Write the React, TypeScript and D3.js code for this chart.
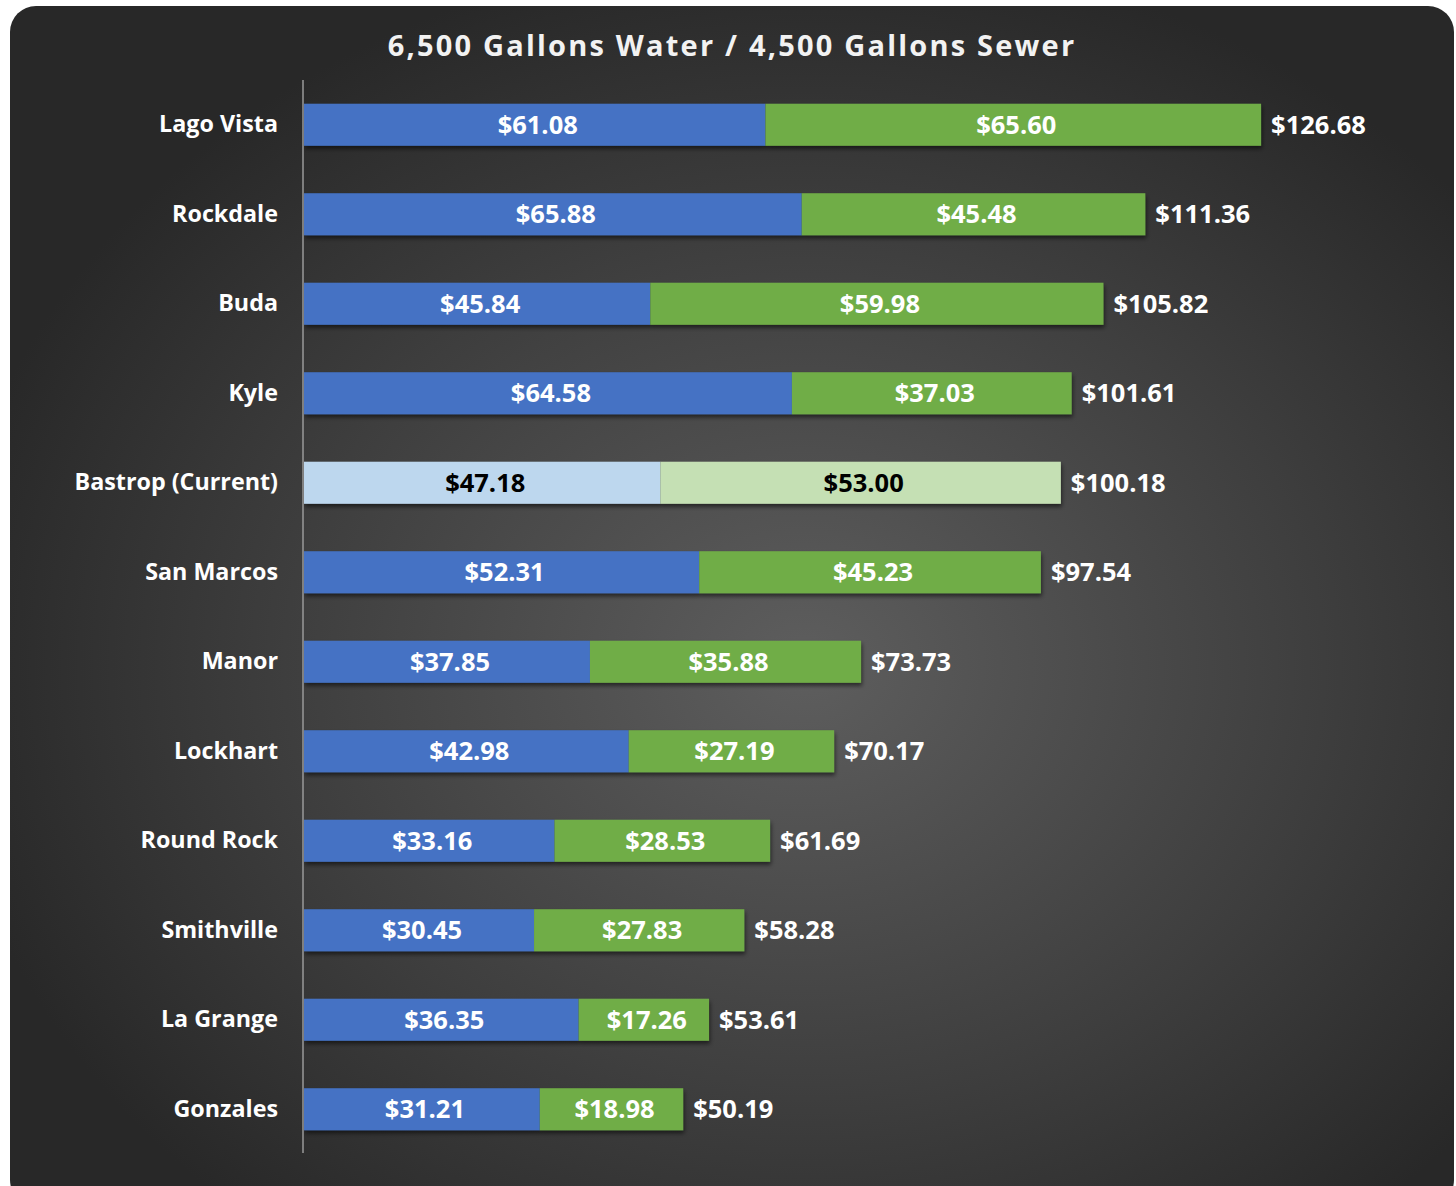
import React from "react";
import * as d3 from "d3";

const cities = ["Lago Vista","Rockdale","Buda","Kyle","Bastrop (Current)","San Marcos","Manor","Lockhart","Round Rock","Smithville","La Grange","Gonzales"];
const water = [61.08,65.88,45.84,64.58,47.18,52.31,37.85,42.98,33.16,30.45,36.35,31.21];
const sewer = [65.60,45.48,59.98,37.03,53.00,45.23,35.88,27.19,28.53,27.83,17.26,18.98];
const totals = [126.68,111.36,105.82,101.61,100.18,97.54,73.73,70.17,61.69,58.28,53.61,50.19];
const highlight = "Bastrop (Current)";
const title = "6,500 Gallons Water / 4,500 Gallons Sewer";

const W = 1456, H = 1186;
const FONT = "'Open Sans', Lato, sans-serif";

export default function App() {
  const x = d3.scaleLinear().domain([0, 140]).range([304, 304 + 140 * 7.555]);
  const y = d3.scaleBand().domain(cities).range([80, 1154]).paddingInner(0.53).paddingOuter(0.265);
  const fmt = (v: number) => "$" + v.toFixed(2);
  return (
    <svg width={W} height={H} style={{ position: "absolute", left: 0, top: 0 }}>
      <defs>
        <radialGradient id="bg" cx="0.55" cy="0.55" r="0.6">
          <stop offset="0" stopColor="#5e5e5e" />
          <stop offset="0.6" stopColor="#3e3e3e" />
          <stop offset="1" stopColor="#282828" />
        </radialGradient>
        <filter id="sh" x="-5%" y="-20%" width="110%" height="160%">
          <feDropShadow dx="1" dy="3" stdDeviation="2" floodColor="#000" floodOpacity="0.55" />
        </filter>
      </defs>
      <rect x={10} y={6} width={1444} height={1200} rx={26} fill="url(#bg)" />
      <text x={732} y={56} textAnchor="middle" fill="#f2f2f2" fontFamily={FONT} fontWeight={700} fontSize={29} letterSpacing={2.2}>{title}</text>
      {cities.map((c, i) => {
        const yy = y(c)!;
        const bh = y.bandwidth();
        const hl = c === highlight;
        const cy = yy + bh / 2;
        return (
          <g key={c}>
            <g filter="url(#sh)">
              <rect x={x(0)} y={yy} width={x(water[i]) - x(0)} height={bh} fill={hl ? "#bdd7ee" : "#4472c4"} />
              <rect x={x(water[i])} y={yy} width={x(water[i] + sewer[i]) - x(water[i])} height={bh} fill={hl ? "#c5e0b4" : "#70ad47"} />
            </g>
            <text x={(x(0) + x(water[i])) / 2 + 3} y={cy} dy="0.36em" textAnchor="middle" fill={hl ? "#000" : "#fff"} fontFamily={FONT} fontWeight={700} fontSize={25.5}>{fmt(water[i])}</text>
            <text x={(x(water[i]) + x(water[i] + sewer[i])) / 2 + 3} y={cy} dy="0.36em" textAnchor="middle" fill={hl ? "#000" : "#fff"} fontFamily={FONT} fontWeight={700} fontSize={25.5}>{fmt(sewer[i])}</text>
            <text x={x(totals[i]) + 10} y={cy} dy="0.36em" textAnchor="start" fill="#fff" fontFamily={FONT} fontWeight={700} fontSize={25.5}>{fmt(totals[i])}</text>
            <text x={278} y={cy} dy="0.33em" textAnchor="end" fill="#fff" fontFamily={FONT} fontWeight={700} fontSize={23.3}>{c}</text>
          </g>
        );
      })}
      <line x1={303} x2={303} y1={80} y2={1153} stroke="#9a9a9a" strokeWidth={1.5} />
    </svg>
  );
}
